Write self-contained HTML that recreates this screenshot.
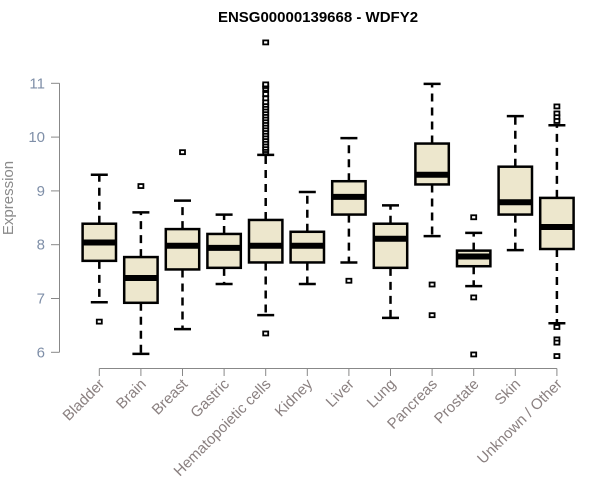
<!DOCTYPE html>
<html><head><meta charset="utf-8"><style>
body{margin:0;background:#fff;}
svg{display:block;font-family:"Liberation Sans",Arial,sans-serif;}
</style></head><body>
<svg id="chart" width="600" height="500" viewBox="0 0 600 500" xmlns="http://www.w3.org/2000/svg">
<text x="318" y="22" text-anchor="middle" font-size="15" font-weight="bold">ENSG00000139668 - WDFY2</text>
<text transform="translate(13,198) rotate(-90)" text-anchor="middle" font-size="15" fill="#8a8a8a">Expression</text>
<g id="axes"></g>
<g id="boxes"></g>
</svg>
<script>
const categories=["Bladder","Brain","Breast","Gastric","Hematopoietic cells","Kidney","Liver","Lung","Pancreas","Prostate","Skin","Unknown / Other"];
const whiskerLow=[6.93,5.97,6.43,7.27,6.69,7.27,7.67,6.64,8.16,7.23,7.90,6.54];
const q1=[7.70,6.92,7.54,7.57,7.67,7.67,8.56,7.57,9.12,7.60,8.56,7.92];
const medians=[8.04,7.38,7.98,7.94,7.98,7.98,8.89,8.11,9.30,7.78,8.79,8.33];
const q3=[8.39,7.77,8.29,8.20,8.46,8.24,9.18,8.39,9.88,7.89,9.45,8.87];
const whiskerHigh=[9.30,8.60,8.82,8.56,9.67,8.98,9.98,8.73,10.99,8.22,10.39,10.22];
const outliers=[[6.57],[9.09],[9.72],[],[6.35,9.72,9.76,9.80,9.85,9.90,9.95,10.0,10.05,10.1,10.15,10.2,10.25,10.3,10.35,10.4,10.45,10.5,10.55,10.6,10.65,10.72,10.8,10.9,10.95,10.98,11.76],[],[7.33],[],[7.26,6.69],[8.51,7.02,5.96],[],[10.57,10.44,10.37,10.30,6.47,6.24,6.18,5.93]];
const yTicks=[6,7,8,9,10,11];
const NS="http://www.w3.org/2000/svg";
function y(v){return 352.3-(v-6)*53.8;}
function x(i){return 99.3+i*41.6;}
function mk(tag,attrs,parent){const e=document.createElementNS(NS,tag);for(const k in attrs)e.setAttribute(k,attrs[k]);parent.appendChild(e);return e;}
const ax=document.getElementById('axes');
const bx=document.getElementById('boxes');
let yl=mk('line',{x1:59.5,x2:59.5,y1:y(6),y2:y(11),stroke:'#888'},ax);


yTicks.forEach(t=>{
  const l=mk('line',{x1:51,x2:59.5,y1:y(t),y2:y(t),stroke:'#888'},ax);
  
  
  const tx=mk('text',{x:45,y:y(t)+5,'text-anchor':'end','font-size':15,fill:'#7f8fa8'},ax);
  tx.textContent=t;
  
  
});
let xl=mk('line',{x1:x(0),x2:x(11),y1:368.5,y2:368.5,stroke:'#888'},ax);


categories.forEach((c,i)=>{
  const cx=x(i);
  const tk=mk('line',{x1:cx,x2:cx,y1:368.5,y2:376,stroke:'#888'},ax);
  
  
  const tx=mk('text',{transform:`translate(${cx+6},${385}) rotate(-45)`,'text-anchor':'end','font-size':15,fill:'#8a8080'},ax);
  tx.textContent=c;
  
  
  const g=mk('g',{},bx);
  
  
  const hw=16.7;
  mk('line',{x1:cx,x2:cx,y1:y(q3[i]),y2:y(whiskerHigh[i]),stroke:'#000','stroke-width':2.5,'stroke-dasharray':'8,6'},g);
  mk('line',{x1:cx,x2:cx,y1:y(q1[i]),y2:y(whiskerLow[i]),stroke:'#000','stroke-width':2.5,'stroke-dasharray':'8,6'},g);
  mk('line',{x1:cx-8.5,x2:cx+8.5,y1:y(whiskerHigh[i]),y2:y(whiskerHigh[i]),stroke:'#000','stroke-width':2.5},g);
  mk('line',{x1:cx-8.5,x2:cx+8.5,y1:y(whiskerLow[i]),y2:y(whiskerLow[i]),stroke:'#000','stroke-width':2.5},g);
  mk('rect',{x:cx-hw,y:y(q3[i]),width:2*hw,height:y(q1[i])-y(q3[i]),fill:'#ede7cd',stroke:'#000','stroke-width':2.5},g);
  mk('line',{x1:cx-hw,x2:cx+hw,y1:y(medians[i]),y2:y(medians[i]),stroke:'#000','stroke-width':6},g);
  outliers[i].forEach(v=>{
    const o=mk('rect',{x:cx-2.5,y:y(v)-2,width:5,height:4,fill:'#fff',stroke:'#000','stroke-width':1.8},g);
    
    
  });
});
</script>
</body></html>
